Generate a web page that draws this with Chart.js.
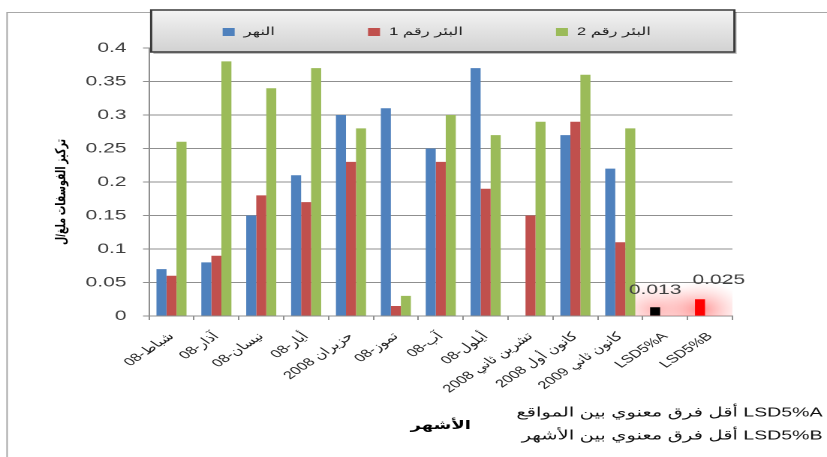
<!DOCTYPE html>
<html>
<head>
<meta charset="utf-8">
<script src="https://cdn.jsdelivr.net/npm/chart.js@4.4.0/dist/chart.umd.min.js"></script>
<style>
  html, body { margin: 0; padding: 0; background: #fff; overflow: hidden; }
  /* the chart is laid out narrow and stretched sideways, like the original sheet */
  #wrap { width: 551px; height: 457px; transform: scaleX(1.5009); transform-origin: 0 0; }
</style>
</head>
<body>
<div id="wrap"><canvas id="myChart" width="551" height="457"></canvas></div>
<script>
const months = ["شباط-08", "آذار-08", "نيسان-08", "أيار-08", "حزيران 2008", "تموز-08",
                "آب-08", "أيلول-08", "تشرين ثاني 2008", "كانون أول 2008", "كانون ثاني 2009"];
const lsdNames = ["LSD5%A", "LSD5%B"];
const seriesNames = ["النهر", "البئر رقم 1", "البئر رقم 2"];

const river = [0.07, 0.08, 0.15, 0.21, 0.30, 0.31, 0.25, 0.37, 0, 0.27, 0.22];
const well1 = [0.06, 0.09, 0.18, 0.17, 0.23, 0.015, 0.23, 0.19, 0.15, 0.29, 0.11];
const well2 = [0.26, 0.38, 0.34, 0.37, 0.28, 0.03, 0.30, 0.27, 0.29, 0.36, 0.28];
const lsdValues = [0.013, 0.025];

const yTitle = "تركيز الفوسفات ملغ/ل";
const xTitle = "الأشهر";
const notes = ["أقل فرق معنوي بين المواقع LSD5%A", "أقل فرق معنوي بين الأشهر LSD5%B"];

const colors = ["#4F81BD", "#C0504D", "#9BBB59"];
const lsdColors = ["#000000", "#FF0000"];
const gridGray = "#8f8f8f";
const fontFamily = "'Liberation Sans', 'DejaVu Sans', sans-serif";

const labels = months.concat(lsdNames);
const blanks = lsdNames.map(() => null);

// frame, legend box, y title, LSD glow and labels, footnotes
const decor = {
  id: "decor",
  beforeDraw(chart) {
    const ctx = chart.ctx;
    ctx.save();
    ctx.fillStyle = "#fff";
    ctx.fillRect(0, 0, chart.width, chart.height);
    ctx.strokeStyle = "#a8a8a8";
    ctx.lineWidth = 1;
    ctx.beginPath();
    ctx.moveTo(4.7, chart.height);
    ctx.lineTo(4.7, 12.5);
    ctx.lineTo(chart.width, 12.5);
    ctx.stroke();
    ctx.restore();
  },
  beforeDatasetsDraw(chart) {
    const ctx = chart.ctx;
    const area = chart.chartArea;
    const meta = chart.getDatasetMeta(0);
    const strength = [0.4, 0.6];
    ctx.save();
    ctx.beginPath();
    ctx.rect(area.left, area.top, area.right - area.left, area.bottom - area.top);
    ctx.clip();
    lsdValues.forEach((v, k) => {
      const bar = meta.data[months.length + k];
      ctx.save();
      ctx.translate(bar.x, bar.base - 6);
      ctx.scale(1.1, 1);
      const g = ctx.createRadialGradient(0, 0, 0, 0, 0, 28);
      g.addColorStop(0, "rgba(255,70,70," + strength[k] + ")");
      g.addColorStop(0.5, "rgba(255,120,120," + strength[k] * 0.5 + ")");
      g.addColorStop(1, "rgba(255,170,170,0)");
      ctx.fillStyle = g;
      ctx.fillRect(-32, -32, 64, 64);
      ctx.restore();
    });
    ctx.restore();
  },
  afterDatasetsDraw(chart) {
    const ctx = chart.ctx;
    const meta = chart.getDatasetMeta(0);
    const shift = [[0, -17], [12.5, -19]];
    ctx.save();
    ctx.font = "14px " + fontFamily;
    ctx.fillStyle = "#404040";
    ctx.textAlign = "center";
    ctx.textBaseline = "middle";
    lsdValues.forEach((v, k) => {
      const bar = meta.data[months.length + k];
      ctx.fillText(v.toFixed(3), bar.x + shift[k][0], bar.y + shift[k][1]);
    });
    ctx.restore();
  },
  afterDraw(chart) {
    const ctx = chart.ctx;
    const area = chart.chartArea;
    ctx.save();

    // y axis title, turned to read upwards
    ctx.font = "bold 9.5px " + fontFamily;
    ctx.fillStyle = "#000";
    ctx.textBaseline = "middle";
    ctx.textAlign = "center";
    ctx.save();
    ctx.translate(41, (area.top + area.bottom) / 2 + 10);
    ctx.rotate(-Math.PI / 2);
    ctx.fillText(yTitle, 0, 0);
    ctx.restore();

    // legend box
    const bx = 100.7, by = 10, bw = 388.6, bh = 42;
    const g = ctx.createLinearGradient(0, by, 0, by + bh);
    g.addColorStop(0, "#f4f4f4");
    g.addColorStop(0.5, "#e2e2e2");
    g.addColorStop(1, "#d2d2d2");
    ctx.fillStyle = "rgba(0,0,0,0.25)";
    ctx.fillRect(bx + 1.5, by + 2, bw, bh);
    ctx.fillStyle = g;
    ctx.fillRect(bx, by, bw, bh);
    ctx.strokeStyle = "#3a3a3a";
    ctx.lineWidth = 1.5;
    ctx.strokeRect(bx, by, bw, bh);

    // legend items, centred in the box
    ctx.font = "11px " + fontFamily;
    ctx.textBaseline = "middle";
    ctx.textAlign = "left";
    const box = 8, gap = 6, spacing = 62;
    const widths = chart.data.datasets.map(ds => ctx.measureText(ds.label).width);
    const total = widths.reduce((a, w) => a + box + gap + w, 0) + spacing * (widths.length - 1);
    let x = bx + (bw - total) / 2 - 4;
    const cy = by + bh / 2 + 1;
    chart.data.datasets.forEach((ds, i) => {
      ctx.fillStyle = colors[i];
      ctx.fillRect(x, cy - box / 2, box, box);
      ctx.fillStyle = "#222";
      ctx.fillText(ds.label, x + box + gap, cy);
      x += box + gap + widths[i] + spacing;
    });

    // footnotes
    ctx.font = "13px " + fontFamily;
    ctx.fillStyle = "#111";
    ctx.textAlign = "right";
    ctx.fillText(notes[0], 548, 413);
    ctx.fillText(notes[1], 548, 436);
    ctx.restore();
  }
};

const ctx = document.getElementById("myChart");

new Chart(ctx, {
  type: "bar",
  data: {
    labels: labels,
    datasets: [
      {
        label: seriesNames[0],
        data: river.concat(lsdValues),
        backgroundColor: river.map(() => colors[0]).concat(lsdColors)
      },
      { label: seriesNames[1], data: well1.concat(blanks), backgroundColor: colors[1] },
      { label: seriesNames[2], data: well2.concat(blanks), backgroundColor: colors[2] }
    ]
  },
  options: {
    responsive: false,
    animation: false,
    devicePixelRatio: 2,
    categoryPercentage: 0.67,
    barPercentage: 1,
    layout: { padding: { top: 48, right: 63, left: 0, bottom: 0 } },
    plugins: {
      legend: { display: false },
      tooltip: { enabled: false }
    },
    scales: {
      x: {
        ticks: {
          autoSkip: false,
          minRotation: 45,
          maxRotation: 45,
          padding: 10,
          color: "#222",
          font: { family: fontFamily, size: 11 }
        },
        grid: { drawOnChartArea: false, tickLength: 4, color: gridGray },
        border: { color: gridGray },
        title: {
          display: true,
          text: xTitle,
          color: "#000",
          font: { family: fontFamily, size: 12, weight: "bold" },
          padding: { top: 0, bottom: 24 }
        },
        afterFit: s => { s.height = 141; }
      },
      y: {
        min: 0,
        max: 0.4,
        ticks: {
          stepSize: 0.05,
          padding: 11,
          color: "#404040",
          font: { family: fontFamily, size: 14 },
          callback: v => String(Math.round(v * 100) / 100)
        },
        grid: { color: gridGray, tickLength: 4 },
        border: { color: gridGray },
        afterFit: s => { s.width = 99.3; }
      }
    }
  },
  plugins: [decor]
});
</script>
</body>
</html>
